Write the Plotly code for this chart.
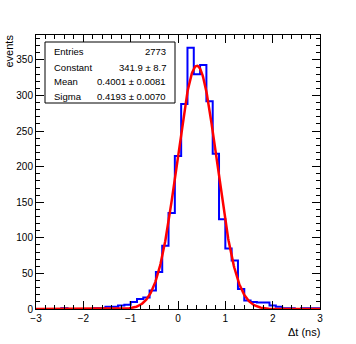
import numpy as np
import plotly.graph_objects as go

# ---- data ----
X_MIN, X_MAX, N_BINS = -3.0, 3.0, 45
counts = [0, 0, 0, 0, 1, 0, 0, 0, 0, 1,
          1, 3, 3, 5, 6, 10, 14, 16, 26, 52,
          89, 135, 215, 288, 367, 330, 343, 292, 218, 126,
          85, 68, 28, 12, 10, 9, 9, 5, 3, 1,
          1, 0, 1, 1, 1]
stats_labels = ["Entries", "Constant", "Mean", "Sigma"]
stats_values = ["2773", "341.9 \u00b1 8.7", "0.4001 \u00b1 0.0081", "0.4193 \u00b1 0.0070"]
FIT_CONSTANT, FIT_MEAN, FIT_SIGMA = 341.9, 0.4001, 0.4193

edges = np.linspace(X_MIN, X_MAX, N_BINS + 1)
step_y = counts + [counts[-1]]

xf = np.linspace(X_MIN, X_MAX, 601)
yf = FIT_CONSTANT * np.exp(-0.5 * ((xf - FIT_MEAN) / FIT_SIGMA) ** 2)

FONT = "Liberation Sans, Arial, Helvetica, sans-serif"

fig = go.Figure()
fig.add_trace(go.Scatter(x=edges, y=step_y, mode="lines", line_shape="hv",
                         line=dict(color="#0000ff", width=2), hoverinfo="skip"))
fig.add_trace(go.Scatter(x=xf, y=yf, mode="lines",
                         line=dict(color="#ff0000", width=2.5), hoverinfo="skip"))

L, R, T, B = 36, 36, 35, 35
W, H = 356, 344
pw, ph = W - L - R, H - T - B

def px(x):
    return (x - L) / pw

def py(y):
    return (H - B - y) / ph

fig.update_layout(
    width=W, height=H,
    margin=dict(l=L, r=R, t=T, b=B, pad=0),
    paper_bgcolor="white", plot_bgcolor="white",
    showlegend=False,
    font=dict(family=FONT, size=10, color="black"),
    xaxis=dict(range=[X_MIN, X_MAX], showgrid=False, zeroline=False,
               showline=True, linecolor="black", linewidth=1, mirror="allticks",
               ticks="inside", ticklen=8, tickcolor="black", dtick=1, tick0=0,
               tickfont=dict(size=10, family=FONT),
               minor=dict(ticks="inside", ticklen=4, dtick=0.2, tick0=0, tickcolor="black")),
    yaxis=dict(range=[0, 385], showgrid=False, zeroline=False,
               showline=True, linecolor="black", linewidth=1, mirror="allticks",
               ticks="inside", ticklen=8, tickcolor="black", dtick=50, tick0=0,
               tickfont=dict(size=10, family=FONT),
               minor=dict(ticks="inside", ticklen=4, dtick=10, tick0=0, tickcolor="black")),
)

# stats box
fig.add_shape(type="rect", xref="paper", yref="paper",
              x0=px(45), x1=px(175), y0=py(103), y1=py(42),
              line=dict(color="black", width=1), fillcolor="white", layer="above")
row_y = [52, 67, 81, 96]
for lab, val, yy in zip(stats_labels, stats_values, row_y):
    fig.add_annotation(xref="paper", yref="paper", x=px(52), y=py(yy), text=lab,
                       showarrow=False, xanchor="left", yanchor="middle",
                       font=dict(size=9.5, family=FONT, color="black"))
    fig.add_annotation(xref="paper", yref="paper", x=px(168), y=py(yy), text=val,
                       showarrow=False, xanchor="right", yanchor="middle",
                       font=dict(size=9.5, family=FONT, color="black"))

# axis titles
fig.add_annotation(xref="paper", yref="paper", x=px(322), y=py(324), text="\u0394t (ns)",
                   showarrow=False, xanchor="right", yanchor="top",
                   font=dict(size=11, family=FONT, color="black"))
fig.add_annotation(xref="paper", yref="paper", x=px(1), y=py(33), text="events",
                   textangle=-90, showarrow=False, xanchor="left", yanchor="top",
                   font=dict(size=11, family=FONT, color="black"))

fig.write_html("out.html", config={"displayModeBar": False},
               post_script="document.body.style.margin='0';document.body.style.padding='0';")
